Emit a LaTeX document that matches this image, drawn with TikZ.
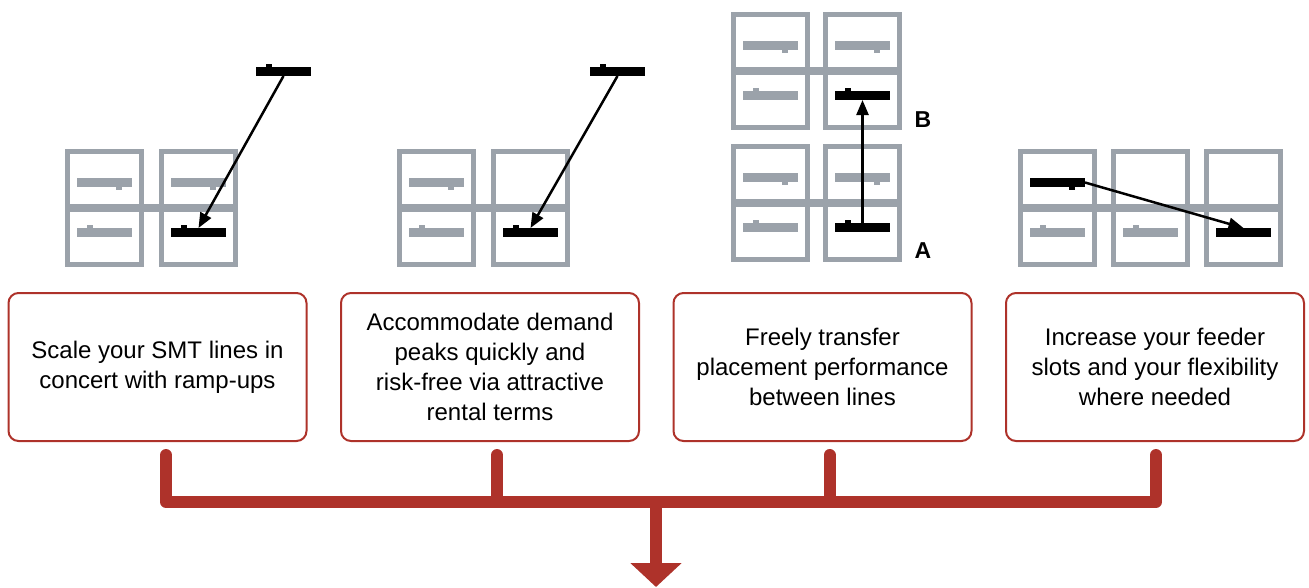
\documentclass[tikz,border=0pt]{standalone}
\usepackage{fontspec}
\setmainfont{Liberation Sans}
\usetikzlibrary{arrows.meta}
\usetikzlibrary{positioning}

\definecolor{railred}{RGB}{174,50,42}
\definecolor{slotgray}{RGB}{155,162,170}

\tikzset{
  cell/.style={draw=slotgray, line width=5pt},
  feeder/.style={fill=slotgray, minimum width=55pt, minimum height=9pt, inner sep=0pt, outer sep=0pt},
  active/.style={feeder, fill=black},
  benefit/.style={draw=railred, line width=2pt, rounded corners=10pt, minimum width=298pt, minimum height=148pt, align=center, font=\fontsize{24}{30}\selectfont},
  trunk/.style={draw=railred, line width=12pt, line cap=round, line join=round},
  move/.style={-{Triangle[length=15pt,width=12pt]}, line width=2.5pt},
  slotlabel/.style={font=\fontsize{23}{26}\selectfont\bfseries}
}

% x0, y0, columns, column step
\newcommand{\cellblock}[4]{%
  \foreach \i in {1,...,#3}{
    \draw[cell] ({#1+(\i-1)*#4+2.5},{#2+2.5}) rectangle ++(74,113);
  }
  \draw[cell, line width=8pt] (#1,{#2+59}) -- ({#1+(#3-1)*#4+79},{#2+59});
}
\newcommand{\tabup}[2]{\fill[#2] ([xshift=10pt]#1.north west) rectangle ++(6,-3);}
\newcommand{\tabdown}[2]{\fill[#2] ([xshift=-16pt]#1.south east) rectangle ++(6,3);}

\begin{document}
\begin{tikzpicture}[x=1pt,y=-1pt]
	\useasboundingbox (0,0) rectangle (1309,587);
	%%cells
	\cellblock{65}{149}{2}{94}
	\cellblock{397}{149}{2}{94}
	\cellblock{731}{12}{2}{92}
	\cellblock{731}{144}{2}{92}
	\cellblock{1018}{149}{3}{93}

	%%feeders
	\node[feeder] (g1tl) at (104.5,182.5) {}; \tabdown{g1tl}{slotgray}
	\node[feeder] (g1tr) at (198.5,182.5) {}; \tabdown{g1tr}{slotgray}
	\node[feeder] (g1bl) at (104.5,232.5) {}; \tabup{g1bl}{slotgray}
	\node[active] (g1br) at (198.5,232.5) {}; \tabup{g1br}{black}
	\node[active] (g1new) at (283.5,71.5) {}; \tabup{g1new}{black}

	\node[feeder] (g2tl) at (436.5,182.5) {}; \tabdown{g2tl}{slotgray}
	\node[feeder] (g2bl) at (436.5,232.5) {}; \tabup{g2bl}{slotgray}
	\node[active] (g2br) at (530.5,232.5) {}; \tabup{g2br}{black}
	\node[active] (g2new) at (617.5,71.5) {}; \tabup{g2new}{black}

	\node[feeder] (g3tl) at (770.5,45.5) {}; \tabdown{g3tl}{slotgray}
	\node[feeder] (g3tr) at (862.5,45.5) {}; \tabdown{g3tr}{slotgray}
	\node[feeder] (g3ml) at (770.5,95.5) {}; \tabup{g3ml}{slotgray}
	\node[active] (g3b) at (862.5,95.5) {}; \tabup{g3b}{black}
	\node[feeder] (g3nl) at (770.5,177.5) {}; \tabdown{g3nl}{slotgray}
	\node[feeder] (g3nr) at (862.5,177.5) {}; \tabdown{g3nr}{slotgray}
	\node[feeder] (g3bl) at (770.5,227.5) {}; \tabup{g3bl}{slotgray}
	\node[active] (g3a) at (862.5,227.5) {}; \tabup{g3a}{black}
	\node[slotlabel] (labb) at (923,120) {B};
	\node[slotlabel] (laba) at (923,251) {A};

	\node[active] (g4tl) at (1057.5,182.5) {}; \tabdown{g4tl}{black}
	\node[feeder] (g4bl) at (1057.5,232.5) {}; \tabup{g4bl}{slotgray}
	\node[feeder] (g4bm) at (1150.5,232.5) {}; \tabup{g4bm}{slotgray}
	\node[active] (g4br) at (1243.5,232.5) {};

	\draw[move] (g1new.south) -- (g1br.north);
	\draw[move] (g2new.south) -- (g2br.north);
	\draw[move] (g3a.north) -- (g3b.south);
	\draw[move] (g4tl.east) -- (g4br.north);

	%%benefits
	\node[benefit] (b1) at (157.5,367) {Scale your SMT lines in\\concert with ramp-ups};
	\node[benefit, right=32.5pt of b1] (b2) {Accommodate demand\\peaks quickly and\\risk-free via attractive\\rental terms};
	\node[benefit, right=32.5pt of b2] (b3) {Freely transfer\\placement performance\\between lines};
	\node[benefit, right=32.5pt of b3] (b4) {Increase your feeder\\slots and your flexibility\\where needed};

	\coordinate (bus) at (656,502);
	\coordinate (out) at (656,587);
	\draw[trunk] ([xshift=8.5pt,yshift=-13pt]b1.south) |- (bus) -| ([xshift=1pt,yshift=-13pt]b4.south);
	\draw[trunk] ([xshift=7pt,yshift=-13pt]b2.south) |- (bus);
	\draw[trunk] ([xshift=7pt,yshift=-13pt]b3.south) |- (bus);
	\draw[trunk, line cap=butt, -{Triangle[width=50pt,length=24pt]}] (bus) -- (out);
\end{tikzpicture}
\end{document}
